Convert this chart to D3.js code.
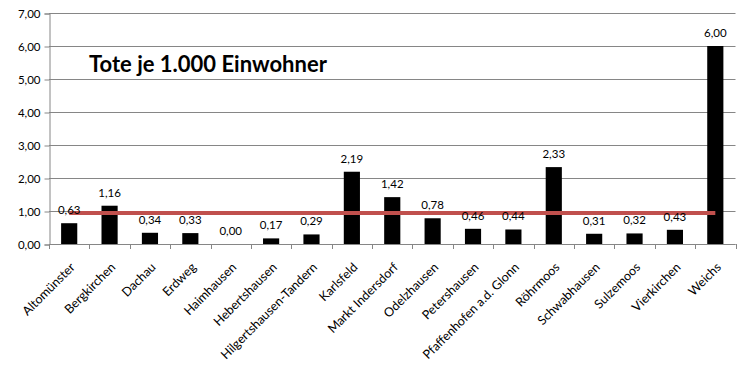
<!DOCTYPE html>
<html>
<head>
<meta charset="utf-8">
<script src="https://cdn.jsdelivr.net/npm/d3@7"></script>
<style>
  body { margin: 0; background: #fff; }
  text { font-family: Lato, "Open Sans", sans-serif; fill: #000; }
  .title { font-weight: bold; font-size: 22px; }
</style>
</head>
<body>
<svg id="chart" width="749" height="365"></svg>
<script>
// data
const gemeinden = ["Altomünster","Bergkirchen","Dachau","Erdweg","Haimhausen","Hebertshausen","Hilgertshausen-Tandern","Karlsfeld","Markt Indersdorf","Odelzhausen","Petershausen","Pfaffenhofen a.d. Glonn","Röhrmoos","Schwabhausen","Sulzemoos","Vierkirchen","Weichs"]
const toteJe1000 = [0.63,1.16,0.34,0.33,0.00,0.17,0.29,2.19,1.42,0.78,0.46,0.44,2.33,0.31,0.32,0.43,6.00]
const durchschnitt = [0.94,0.94,0.94,0.94,0.94,0.94,0.94,0.94,0.94,0.94,0.94,0.94,0.94,0.94,0.94,0.94,0.94]
const yTicks = [0,1,2,3,4,5,6,7]
const titel = "Tote je 1.000 Einwohner"

const de = d3.formatLocale({decimal: ",", thousands: ".", grouping: [3], currency: ["", " €"]})
const fmt = de.format(".2f")

const svg = d3.select("#chart")
const plotLeft = 49, plotRight = 735.5, plotTop = 13, plotBottom = 244

const x = d3.scaleBand().domain(gemeinden).range([plotLeft, plotRight]).paddingInner(0.6).paddingOuter(0.3)
const y = d3.scaleLinear().domain([0, 7]).range([plotBottom, plotTop])

// grid
svg.append("g").selectAll("line")
  .data(yTicks)
  .join("line")
    .attr("x1", plotLeft).attr("x2", plotRight)
    .attr("y1", d => Math.round(y(d)) + 0.5).attr("y2", d => Math.round(y(d)) + 0.5)
    .attr("stroke", "#868686").attr("stroke-width", 1)

// y axis
const yAxis = svg.append("g").attr("transform", `translate(${plotLeft + 0.5},0.5)`)
  .call(d3.axisLeft(y).tickValues(yTicks).tickFormat(fmt).tickSize(5).tickPadding(4))
yAxis.select(".domain").attr("stroke", "#868686")
yAxis.selectAll(".tick line").attr("stroke", "#868686")
yAxis.selectAll("text").style("font-size", "11.5px").style("font-family", "Lato, sans-serif").attr("fill", "#000")

// bars
svg.append("g").selectAll("rect")
  .data(toteJe1000)
  .join("rect")
    .attr("x", (d, i) => x(gemeinden[i]))
    .attr("y", d => y(d))
    .attr("width", x.bandwidth())
    .attr("height", d => y(0) - y(d))
    .attr("fill", "#000")

// x axis line and ticks at category borders
const step = x.step()
svg.append("line")
  .attr("x1", plotLeft).attr("x2", plotRight)
  .attr("y1", plotBottom + 0.5).attr("y2", plotBottom + 0.5)
  .attr("stroke", "#868686")
svg.append("g").selectAll("line")
  .data(d3.range(gemeinden.length + 1))
  .join("line")
    .attr("x1", i => Math.round(plotLeft + i * step) + 0.5).attr("x2", i => Math.round(plotLeft + i * step) + 0.5)
    .attr("y1", plotBottom).attr("y2", plotBottom + 5)
    .attr("stroke", "#868686")

// x labels
svg.append("g").selectAll("text")
  .data(gemeinden)
  .join("text")
    .attr("transform", d => `translate(${x(d) + x.bandwidth() / 2 + 6.5},${plotBottom + 24}) rotate(-45)`)
    .attr("text-anchor", "end")
    .style("font-size", "12.5px")
    .text(d => d)

// average line
const line = d3.line()
  .x((d, i) => x(gemeinden[i]) + x.bandwidth() / 2)
  .y(d => y(d))
svg.append("path")
  .attr("d", line(durchschnitt))
  .attr("fill", "none")
  .attr("stroke", "#c0504d")
  .attr("stroke-width", 4)

// value labels
svg.append("g").selectAll("text")
  .data(toteJe1000)
  .join("text")
    .attr("x", (d, i) => x(gemeinden[i]) + x.bandwidth() / 2)
    .attr("y", d => y(d) - 9)
    .attr("text-anchor", "middle")
    .style("font-size", "11.5px")
    .text(d => fmt(d))

svg.append("text")
  .attr("class", "title")
  .attr("x", 89).attr("y", 72)
  .text(titel)
</script>
</body>
</html>
